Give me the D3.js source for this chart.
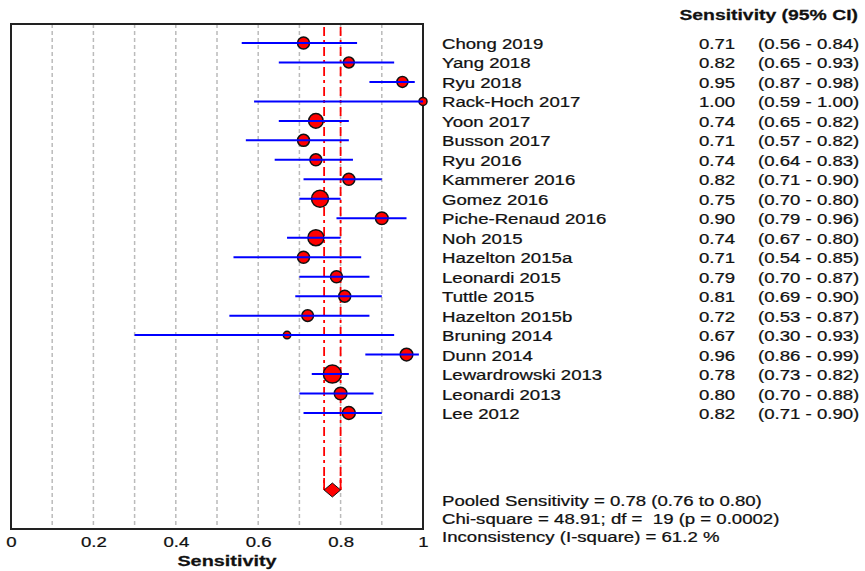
<!DOCTYPE html>
<html>
<head>
<meta charset="UTF-8">
<script src="https://d3js.org/d3.v7.min.js"></script>
<title>Sensitivity forest plot</title>
<style>
  body { margin: 0; background: #fff; }
  text { font-family: "Liberation Sans", Arial, sans-serif; fill: #111; white-space: pre; }
</style>
</head>
<body>
<div id="container"></div>
<script>
// data
var studies = ["Chong 2019", "Yang 2018", "Ryu 2018", "Rack-Hoch 2017", "Yoon 2017",
  "Busson 2017", "Ryu 2016", "Kammerer 2016", "Gomez 2016", "Piche-Renaud 2016",
  "Noh 2015", "Hazelton 2015a", "Leonardi 2015", "Tuttle 2015", "Hazelton 2015b",
  "Bruning 2014", "Dunn 2014", "Lewardrowski 2013", "Leonardi 2013", "Lee 2012"];
var sens   = [0.71, 0.82, 0.95, 1.00, 0.74, 0.71, 0.74, 0.82, 0.75, 0.90, 0.74, 0.71, 0.79, 0.81, 0.72, 0.67, 0.96, 0.78, 0.80, 0.82];
var ciLow  = [0.56, 0.65, 0.87, 0.59, 0.65, 0.57, 0.64, 0.71, 0.70, 0.79, 0.67, 0.54, 0.70, 0.69, 0.53, 0.30, 0.86, 0.73, 0.70, 0.71];
var ciHigh = [0.84, 0.93, 0.98, 1.00, 0.82, 0.82, 0.83, 0.90, 0.80, 0.96, 0.80, 0.85, 0.87, 0.90, 0.87, 0.93, 0.99, 0.82, 0.88, 0.90];
// relative marker weights
var weights = [36, 30, 30, 16, 53, 36, 36, 36, 72, 40, 64, 36, 36, 36, 34, 14, 40, 81, 40, 42];
var pooled = {est: 0.78, low: 0.76, high: 0.80};
var tickVals = [0, 0.2, 0.4, 0.6, 0.8, 1];
var gridVals = [0.1, 0.2, 0.3, 0.4, 0.5, 0.6, 0.7, 0.8, 0.9];
var statsLines = ["Pooled Sensitivity = 0.78 (0.76 to 0.80)",
  "Chi-square = 48.91; df =  19 (p = 0.0002)",
  "Inconsistency (I-square) = 61.2 %"];

var W = 865, H = 571,
  box = {left: 11, right: 423, top: 24, bottom: 529},
  yPool = 490,
  fs = 15.5, sx = 1.2;   // the text in the picture is stretched sideways

var svg = d3.select("#container").append("svg")
  .attr("width", W).attr("height", H);

var x = d3.scaleLinear().domain([0, 1]).range([box.left, box.right]);
var y = d3.scalePoint().domain(studies).range([43, 413]);
var r = d3.scaleSqrt().domain([0, d3.max(weights)]).range([0, 9]);

var rows = studies.map(function(s, i) {
  return {name: s, est: sens[i], lo: ciLow[i], hi: ciHigh[i], w: weights[i]};
});

// helper for stretched text
function txt(g, str, tx, ty, anchor, bold, k) {
  return g.append("text")
    .attr("transform", "translate(" + tx + "," + ty + ") scale(" + (k || sx) + ",1)")
    .attr("text-anchor", anchor || "start")
    .style("font-size", fs + "px")
    .style("font-weight", bold ? "bold" : "normal")
    .style("stroke", "#111").style("stroke-width", 0.25)
    .text(str);
}

// grid
svg.append("g").selectAll("line")
  .data(gridVals).enter().append("line")
  .attr("x1", function(d) { return x(d); }).attr("x2", function(d) { return x(d); })
  .attr("y1", box.top).attr("y2", box.bottom)
  .attr("stroke", "#bbb").attr("stroke-width", 1.5)
  .attr("stroke-dasharray", "4,3");

// frame
svg.append("rect")
  .attr("x", box.left).attr("y", box.top)
  .attr("width", box.right - box.left).attr("height", box.bottom - box.top)
  .attr("fill", "none").attr("stroke", "#222").attr("stroke-width", 2);

// pooled CI lines
svg.append("g").selectAll("line")
  .data([pooled.low, pooled.high]).enter().append("line")
  .attr("x1", function(d) { return x(d); }).attr("x2", function(d) { return x(d); })
  .attr("y1", box.top + 3).attr("y2", yPool)
  .attr("stroke", "red").attr("stroke-width", 1.8)
  .attr("stroke-dasharray", "9,4,3,4");
svg.append("g").selectAll("line")
  .data([pooled.low, pooled.high]).enter().append("line")
  .attr("x1", function(d) { return x(d); }).attr("x2", function(d) { return x(d); })
  .attr("y1", yPool - 12).attr("y2", yPool)
  .attr("stroke", "red").attr("stroke-width", 1.8);

// pooled diamond
svg.append("path")
  .attr("d", "M" + x(pooled.low) + "," + yPool +
    "L" + x(pooled.est) + "," + (yPool - 7) +
    "L" + x(pooled.high) + "," + yPool +
    "L" + x(pooled.est) + "," + (yPool + 7) + "Z")
  .attr("fill", "red").attr("stroke", "#111").attr("stroke-width", 1);

// study markers
svg.append("g").selectAll("circle")
  .data(rows).enter().append("circle")
  .attr("cx", function(d) { return x(d.est); })
  .attr("cy", function(d) { return y(d.name); })
  .attr("r", function(d) { return r(d.w); })
  .attr("fill", "red").attr("stroke", "#111").attr("stroke-width", 1.5);

// confidence intervals
svg.append("g").selectAll("line")
  .data(rows).enter().append("line")
  .attr("x1", function(d) { return x(d.lo); })
  .attr("x2", function(d) { return x(d.hi); })
  .attr("y1", function(d) { return y(d.name); })
  .attr("y2", function(d) { return y(d.name); })
  .attr("stroke", "#00f").attr("stroke-width", 2);

// x axis
var axis = svg.append("g")
  .attr("transform", "translate(0," + box.bottom + ")")
  .call(d3.axisBottom(x).tickValues(tickVals).tickSize(0).tickPadding(7)
    .tickFormat(d3.format("~g")));
axis.select(".domain").remove();
axis.selectAll("text")
  .attr("transform", "scale(" + sx + ",1)")
  .style("font-size", fs + "px")
  .style("font-family", "'Liberation Sans', Arial, sans-serif")
  .style("stroke", "#111").style("stroke-width", 0.25)
  .attr("fill", "#111");
txt(svg, "Sensitivity", 227, 566, "middle", true, 1.28);

// right-hand table
var tab = svg.append("g");
txt(tab, "Sensitivity (95% CI)", 858, 20, "end", true, 1.25);
var fmt = d3.format(".2f");
rows.forEach(function(d) {
  var ty = y(d.name) + 6;
  txt(tab, d.name, 442, ty);
  txt(tab, fmt(d.est), 699, ty);
  txt(tab, "(" + fmt(d.lo) + " - " + fmt(d.hi) + ")", 758, ty);
});
statsLines.forEach(function(s, i) {
  txt(tab, s, 442, 506 + i * 18);
});
</script>
</body>
</html>
